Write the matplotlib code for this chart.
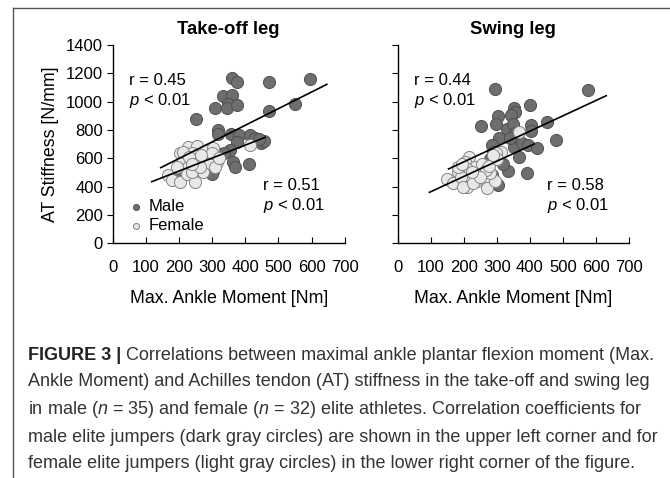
import numpy as np
import matplotlib
matplotlib.use("Agg")
import matplotlib.pyplot as plt
from matplotlib.lines import Line2D

plt.rcParams['font.family'] = ['Liberation Sans', 'DejaVu Sans']
plt.rcParams['mathtext.fontset'] = 'custom'
plt.rcParams['mathtext.rm'] = 'Liberation Sans'
plt.rcParams['mathtext.it'] = 'Liberation Sans:italic'

# Take-off leg, male (x = ankle moment [Nm], y = AT stiffness [N/mm])
to_male_x = [359, 376, 473, 596, 334, 361, 349, 346, 376, 309, 251, 550, 473,
             319, 318, 356, 380, 376, 415, 430, 446, 455, 354, 364, 368, 410,
             322, 304, 299, 198, 440, 335]
to_male_y = [1168, 1141, 1138, 1163, 1040, 1047, 986, 957, 978, 957, 880, 980,
             932, 800, 770, 772, 768, 716, 768, 744, 706, 725, 659, 576, 541,
             562, 628, 508, 492, 494, 735, 640]
# Take-off leg, female
to_fem_x = [203, 228, 253, 238, 211, 279, 304, 299, 314, 279, 253, 223, 248,
            273, 294, 168, 178, 203, 223, 248, 238, 309, 415, 263, 213, 304,
            299, 230, 195, 240, 265, 320]
to_fem_y = [635, 682, 687, 635, 588, 654, 647, 593, 576, 588, 576, 529, 517,
            505, 565, 482, 447, 435, 489, 435, 505, 541, 694, 541, 647, 671,
            635, 610, 540, 560, 620, 600]

# Swing leg, male
sw_male_x = [295, 577, 401, 352, 354, 305, 342, 252, 298, 330, 348, 402, 404,
             451, 356, 308, 478, 284, 352, 375, 395, 422, 368, 280, 289, 334,
             390, 284, 303, 320, 340]
sw_male_y = [1087, 1082, 974, 953, 930, 899, 906, 830, 842, 807, 842, 836, 795,
             858, 780, 745, 727, 697, 678, 708, 694, 673, 611, 594, 647, 510,
             498, 482, 410, 560, 740]
# Swing leg, female
sw_fem_x = [368, 314, 297, 216, 204, 234, 254, 209, 184, 148, 166, 193, 209,
            199, 241, 264, 269, 294, 279, 229, 181, 267, 277, 302, 287, 250,
            225, 195]
sw_fem_y = [788, 647, 635, 611, 576, 541, 560, 522, 505, 452, 428, 470, 400,
            400, 440, 447, 388, 442, 494, 428, 541, 518, 546, 593, 624, 470,
            500, 560]

# regression line end points
to_male_fit = ([145, 646], [534, 1122])
to_fem_fit = ([118, 460], [435, 748])
sw_male_fit = ([154, 631], [525, 1042])
sw_fem_fit = ([96, 413], [360, 701])

panels = [
    ("Take-off leg", to_male_x, to_male_y, to_fem_x, to_fem_y,
     to_male_fit, to_fem_fit, ("0.45", "0.51")),
    ("Swing leg", sw_male_x, sw_male_y, sw_fem_x, sw_fem_y,
     sw_male_fit, sw_fem_fit, ("0.44", "0.58")),
]

W, H = 670, 478
fig = plt.figure(figsize=(W / 100, H / 100), dpi=100)

ax_pos = [(112.7, 232), (397.7, 231.3)]
ax_top, ax_bot = 45, 243.3

dark, dark_edge = "#6e6e6e", "#505050"
light, light_edge = "#e8e8e8", "#858585"

for i, (title, mx, my, fx, fy, mfit, ffit, rvals) in enumerate(panels):
    x0, w = ax_pos[i]
    ax = fig.add_axes([x0 / W, 1 - ax_bot / H, w / W, (ax_bot - ax_top) / H])
    hm = ax.scatter(mx, my, s=76, c=dark, edgecolors=dark_edge, linewidths=0.7,
                    zorder=3, label="Male")
    hf = ax.scatter(fx, fy, s=76, c=light, edgecolors=light_edge, linewidths=0.7,
                    zorder=3, label="Female")
    ax.plot(*mfit, color="black", lw=1.2, zorder=4)
    ax.plot(*ffit, color="black", lw=1.2, zorder=4)

    ax.set_xlim(0, 700)
    ax.set_ylim(0, 1400)
    ax.set_xticks(range(0, 701, 100))
    ax.set_yticks(range(0, 1401, 200))
    for s in ["top", "right"]:
        ax.spines[s].set_visible(False)
    ax.spines["left"].set_linewidth(1.0)
    ax.spines["bottom"].set_linewidth(1.0)
    ax.tick_params(axis="x", direction="in", length=4, labelsize=12, pad=12)
    ax.tick_params(axis="y", direction="out", length=4, labelsize=12, pad=3)
    if i == 1:
        ax.tick_params(axis="y", labelleft=False)
    else:
        ax.set_ylabel("AT Stiffness [N/mm]", fontsize=12.8, labelpad=5)
    ax.set_xlabel("Max. Ankle Moment [Nm]", fontsize=12.8, labelpad=11)

    ax.text(0.5, 1 + 15 / 198, title, transform=ax.transAxes, ha="center",
            va="center", fontsize=13.3, fontweight="bold")
    ax.text(50, 1150, "r = " + rvals[0], fontsize=12, va="center")
    ax.text(50, 1010, "$p$ < 0.01", fontsize=12, va="center")
    ax.text(452, 410, "r = " + rvals[1], fontsize=12, va="center")
    ax.text(452, 265, "$p$ < 0.01", fontsize=12, va="center")

    if i == 0:
        ax.legend(handles=[hm, hf], loc="lower left", frameon=False,
                  markerscale=0.5, fontsize=12, handlelength=1.0,
                  handletextpad=0.3, labelspacing=0.25, borderaxespad=0.2,
                  bbox_to_anchor=(0.02, 0.0))

# frame lines of the figure box
fig.add_artist(Line2D([13 / W, 1], [1 - 8 / H, 1 - 8 / H], color="#555555", lw=1))
fig.add_artist(Line2D([13 / W, 13 / W], [0, 1 - 8 / H], color="#555555", lw=1))

# caption
cap_col = "#333333"
cap_fs = 13
cap_x = 28 / W
cap_lines = [
    " Correlations between maximal ankle plantar flexion moment (Max.",
    "Ankle Moment) and Achilles tendon (AT) stiffness in the take-off and swing leg",
    "in male ($n$ = 35) and female ($n$ = 32) elite athletes. Correlation coefficients for",
    "male elite jumpers (dark gray circles) are shown in the upper left corner and for",
    "female elite jumpers (light gray circles) in the lower right corner of the figure.",
]
cap_y = [355, 382, 409, 437, 464]

bold = fig.text(cap_x, 1 - cap_y[0] / H, "FIGURE 3 |", fontsize=cap_fs,
                fontweight="bold", color="#222222", va="center")
fig.canvas.draw()
bb = bold.get_window_extent(fig.canvas.get_renderer())
fig.text(bb.x1 / W, 1 - cap_y[0] / H, cap_lines[0], fontsize=cap_fs,
         color=cap_col, va="center")
for line, y in zip(cap_lines[1:], cap_y[1:]):
    fig.text(cap_x, 1 - y / H, line, fontsize=cap_fs, color=cap_col, va="center")

fig.savefig("out.png", dpi=100)
